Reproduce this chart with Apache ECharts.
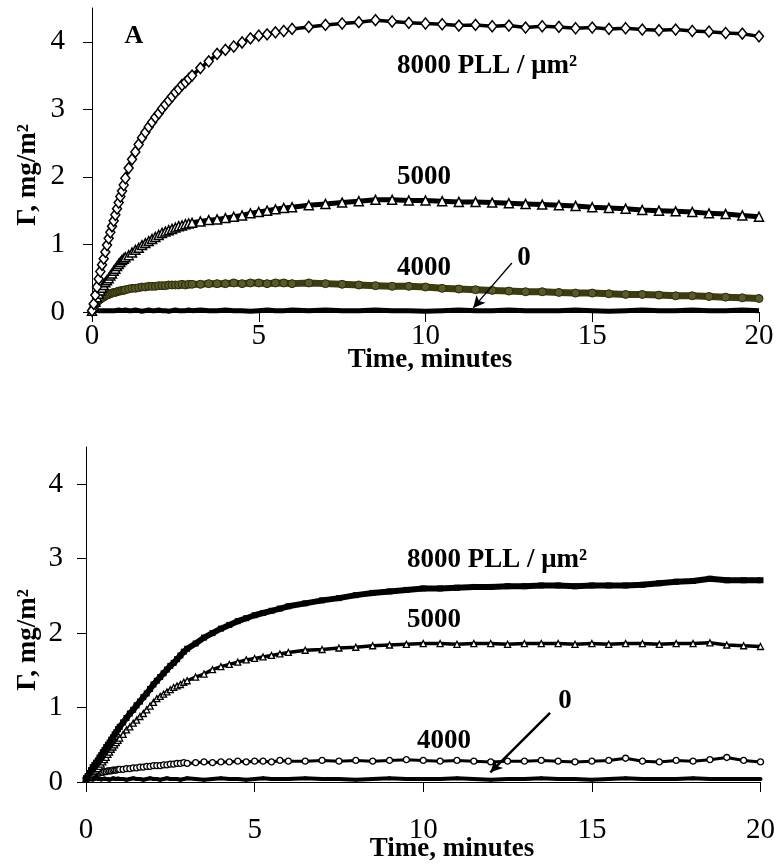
<!DOCTYPE html>
<html>
<head>
<meta charset="utf-8">
<script src="https://cdn.jsdelivr.net/npm/echarts@6/dist/echarts.min.js"></script>
<style>html,body{margin:0;padding:0;background:#fff;}#c{width:778px;height:867px;}</style>
</head>
<body>
<div id="c"></div>
<script>
// Time, minutes (shared by both panels)
const time = [0,0.05,0.1,0.15,0.2,0.25,0.3,0.35,0.4,0.45,0.5,0.55,0.6,0.65,0.7,0.75,0.8,0.85,0.9,0.95,1.0,
  1.1,1.2,1.3,1.4,1.5,1.6,1.7,1.8,1.9,2.0,2.1,2.2,2.3,2.4,2.5,2.6,2.7,2.8,2.9,3.0,
  3.25,3.5,3.75,4.0,4.25,4.5,4.75,5.0,5.25,5.5,5.75,6.0,
  6.5,7,7.5,8,8.5,9,9.5,10,10.5,11,11.5,12,12.5,13,13.5,14,14.5,15,15.5,16,16.5,17,17.5,18,18.5,19,19.5,20];

// Panel A (top), Γ in mg/m²
const topPLL8000 = [0.02,0.12,0.25,0.37,0.49,0.60,0.70,0.79,0.89,0.99,1.09,1.18,1.27,1.35,1.44,1.53,1.62,1.71,1.79,1.88,1.98,
  2.13,2.26,2.37,2.48,2.58,2.66,2.74,2.81,2.88,2.94,3.01,3.07,3.13,3.19,3.25,3.30,3.36,3.40,3.45,3.50,
  3.61,3.71,3.82,3.88,3.93,3.99,4.05,4.09,4.11,4.14,4.16,4.19,
  4.22,4.25,4.27,4.29,4.32,4.30,4.28,4.27,4.26,4.24,4.25,4.23,4.24,4.21,4.23,4.22,4.20,4.21,4.19,4.20,4.18,4.17,4.18,4.16,4.15,4.13,4.12,4.08];
const topPLL5000 = [0.02,0.08,0.15,0.22,0.27,0.32,0.36,0.40,0.44,0.47,0.50,0.54,0.57,0.61,0.64,0.68,0.71,0.74,0.77,0.79,0.81,
  0.84,0.88,0.92,0.95,0.99,1.02,1.05,1.08,1.11,1.14,1.17,1.19,1.21,1.23,1.25,1.27,1.28,1.30,1.31,1.32,
  1.34,1.36,1.37,1.39,1.41,1.43,1.46,1.48,1.50,1.52,1.54,1.55,
  1.58,1.60,1.62,1.64,1.66,1.66,1.65,1.65,1.64,1.63,1.63,1.62,1.61,1.60,1.59,1.58,1.57,1.55,1.54,1.53,1.51,1.50,1.49,1.48,1.46,1.45,1.43,1.41];
const topPLL4000 = [0.02,0.07,0.11,0.14,0.17,0.19,0.21,0.22,0.24,0.25,0.26,0.27,0.28,0.29,0.29,0.30,0.31,0.31,0.32,0.32,0.33,
  0.34,0.35,0.35,0.36,0.37,0.37,0.38,0.38,0.38,0.39,0.39,0.39,0.40,0.40,0.40,0.40,0.41,0.40,0.41,0.41,
  0.41,0.42,0.42,0.42,0.43,0.42,0.43,0.43,0.42,0.43,0.43,0.42,
  0.43,0.42,0.41,0.40,0.39,0.38,0.38,0.37,0.35,0.34,0.33,0.32,0.31,0.30,0.30,0.29,0.28,0.28,0.27,0.26,0.26,0.25,0.24,0.24,0.23,0.22,0.21,0.20];
const topPLL0 = [0.02,0.02,0.03,0.02,0.02,0.01,0.02,0.03,0.02,0.02,0.02,0.03,0.02,0.01,0.02,0.02,0.03,0.02,0.02,0.02,0.03,
  0.02,0.02,0.03,0.02,0.01,0.02,0.03,0.02,0.02,0.03,0.02,0.02,0.01,0.02,0.03,0.02,0.02,0.02,0.03,0.02,
  0.03,0.02,0.02,0.03,0.02,0.02,0.01,0.02,0.03,0.02,0.02,0.03,
  0.02,0.03,0.02,0.02,0.03,0.02,0.02,0.01,0.02,0.03,0.02,0.02,0.03,0.02,0.02,0.02,0.03,0.02,0.01,0.02,0.03,0.02,0.02,0.03,0.02,0.02,0.03,0.02];

// Panel B (bottom)
const botPLL8000 = [0.05,0.08,0.12,0.16,0.20,0.23,0.26,0.29,0.33,0.36,0.40,0.43,0.47,0.50,0.53,0.57,0.60,0.64,0.67,0.71,0.74,
  0.80,0.86,0.92,0.97,1.03,1.08,1.14,1.19,1.25,1.31,1.36,1.41,1.46,1.51,1.56,1.60,1.65,1.70,1.75,1.79,
  1.86,1.94,2.00,2.06,2.11,2.16,2.20,2.24,2.27,2.30,2.33,2.36,
  2.40,2.44,2.47,2.51,2.54,2.56,2.58,2.60,2.60,2.61,2.62,2.62,2.63,2.63,2.64,2.64,2.63,2.64,2.64,2.64,2.65,2.67,2.69,2.70,2.73,2.71,2.71,2.71];
const botPLL5000 = [0.05,0.06,0.08,0.10,0.12,0.14,0.16,0.18,0.21,0.24,0.27,0.30,0.33,0.37,0.40,0.44,0.47,0.50,0.53,0.56,0.59,
  0.64,0.70,0.74,0.79,0.83,0.88,0.92,0.97,1.02,1.07,1.12,1.15,1.18,1.21,1.24,1.27,1.29,1.31,1.34,1.36,
  1.41,1.45,1.51,1.55,1.58,1.61,1.64,1.66,1.68,1.70,1.72,1.74,
  1.77,1.78,1.80,1.81,1.83,1.84,1.85,1.86,1.86,1.85,1.86,1.86,1.85,1.86,1.86,1.86,1.85,1.86,1.85,1.86,1.86,1.85,1.86,1.86,1.87,1.84,1.83,1.82];
const botPLL4000 = [0.05,0.07,0.08,0.09,0.10,0.11,0.11,0.12,0.12,0.13,0.13,0.14,0.14,0.15,0.15,0.15,0.16,0.16,0.16,0.17,0.17,
  0.17,0.18,0.18,0.19,0.19,0.20,0.20,0.21,0.21,0.22,0.22,0.22,0.23,0.23,0.24,0.24,0.25,0.25,0.26,0.25,
  0.26,0.27,0.26,0.27,0.27,0.28,0.27,0.28,0.28,0.27,0.29,0.28,
  0.28,0.29,0.28,0.29,0.28,0.29,0.30,0.29,0.28,0.29,0.28,0.27,0.28,0.28,0.29,0.28,0.27,0.28,0.29,0.32,0.28,0.27,0.29,0.28,0.30,0.33,0.29,0.27];
const botPLL0 = [0.05,0.04,0.05,0.04,0.03,0.04,0.05,0.04,0.04,0.03,0.04,0.05,0.04,0.04,0.03,0.04,0.05,0.04,0.04,0.05,0.04,
  0.04,0.03,0.04,0.05,0.04,0.04,0.03,0.04,0.05,0.04,0.04,0.03,0.04,0.05,0.04,0.04,0.04,0.03,0.04,0.05,
  0.04,0.03,0.04,0.05,0.04,0.04,0.03,0.04,0.05,0.04,0.04,0.04,
  0.05,0.04,0.04,0.03,0.04,0.05,0.04,0.04,0.04,0.05,0.04,0.03,0.04,0.04,0.05,0.04,0.04,0.03,0.04,0.05,0.04,0.04,0.04,0.05,0.04,0.04,0.04,0.04];

const xTicks = [0, 5, 10, 15, 20];
const yTicks = [0, 1, 2, 3, 4];

const pair = (ys) => time.map((t, i) => [t, ys[i]]);
const FONT = 'Liberation Serif, Times New Roman, serif';
const OLIVE = '#3c3c12';

function xAxisFor(gi, margin) {
  return {
    gridIndex: gi, type: 'value', min: 0, max: 20, interval: 5,
    axisLine: { show: true, onZero: false, lineStyle: { color: '#000', width: 1 } },
    axisTick: { show: true, inside: false, length: 10, lineStyle: { color: '#000', width: 1 } },
    axisLabel: { color: '#000', fontFamily: FONT, fontSize: 29, margin: margin,
      formatter: v => xTicks.includes(v) ? String(v) : '' },
    splitLine: { show: false }
  };
}
function yAxisFor(gi, margin) {
  return {
    gridIndex: gi, type: 'value', min: 0, max: 4.5, interval: 1,
    axisLine: { show: true, onZero: false, lineStyle: { color: '#000', width: 1 } },
    axisTick: { show: true, inside: false, length: 9, lineStyle: { color: '#000', width: 1 } },
    axisLabel: { color: '#000', fontFamily: FONT, fontSize: 29, margin: margin, showMaxLabel: false,
      formatter: v => yTicks.includes(v) ? String(v) : '' },
    splitLine: { show: false }
  };
}

const arrowLine = (from, to, w) => ({
  silent: true, animation: false,
  symbol: ['none', 'arrow'], symbolSize: [9, 12],
  lineStyle: { color: '#000', width: w, type: 'solid' },
  label: { show: false },
  emphasis: { disabled: true },
  data: [[{ coord: from }, { coord: to }]]
});

const boldText = (txt, x, y, size) => ({
  type: 'text', x: x, y: y, z: 100,
  style: { text: txt, fill: '#000', font: 'bold ' + size + 'px ' + FONT, align: 'center', verticalAlign: 'middle' }
});
const boldTextLeft = (txt, x, y, size) => ({
  type: 'text', x: x, y: y, z: 100,
  style: { text: txt, fill: '#000', font: 'bold ' + size + 'px ' + FONT, align: 'left', verticalAlign: 'middle' }
});

const option = {
  animation: false,
  backgroundColor: '#fff',
  grid: [
    { left: 92, top: 8, width: 667, height: 304 },
    { left: 86, top: 447, width: 679, height: 335 }
  ],
  xAxis: [xAxisFor(0, 10), xAxisFor(1, 34)],
  yAxis: [yAxisFor(0, 27), yAxisFor(1, 23)],
  series: [
    // top panel
    { type: 'line', xAxisIndex: 0, yAxisIndex: 0, data: pair(topPLL0), symbol: 'none',
      lineStyle: { color: '#000', width: 5 }, z: 2,
      markLine: arrowLine([12.59, 0.726], [11.43, 0.06], 1.3) },
    { type: 'line', xAxisIndex: 0, yAxisIndex: 0, data: pair(topPLL4000), symbol: 'circle', symbolSize: 8,
      itemStyle: { color: '#5a5a28', borderColor: '#2a2a08', borderWidth: 1 },
      lineStyle: { color: OLIVE, width: 7 }, z: 3 },
    { type: 'line', xAxisIndex: 0, yAxisIndex: 0, data: pair(topPLL5000), symbol: 'triangle', symbolSize: 9,
      itemStyle: { color: '#fff', borderColor: '#000', borderWidth: 1.5 },
      lineStyle: { color: '#000', width: 5 }, z: 4 },
    { type: 'line', xAxisIndex: 0, yAxisIndex: 0, data: pair(topPLL8000), symbol: 'diamond', symbolSize: [9, 11],
      itemStyle: { color: '#fff', borderColor: '#000', borderWidth: 1.5 },
      lineStyle: { color: '#000', width: 3.5 }, z: 5 },
    // bottom panel
    { type: 'line', xAxisIndex: 1, yAxisIndex: 1, data: pair(botPLL0), symbol: 'circle', symbolSize: 4,
      itemStyle: { color: '#000' }, lineStyle: { color: '#000', width: 4 }, z: 2,
      markLine: arrowLine([13.76, 0.93], [11.99, 0.13], 2.5) },
    { type: 'line', xAxisIndex: 1, yAxisIndex: 1, data: pair(botPLL4000), symbol: 'circle', symbolSize: 6,
      itemStyle: { color: '#fff', borderColor: '#000', borderWidth: 1.4 },
      lineStyle: { color: '#000', width: 3 }, z: 3 },
    { type: 'line', xAxisIndex: 1, yAxisIndex: 1, data: pair(botPLL5000), symbol: 'triangle', symbolSize: 6,
      itemStyle: { color: '#fff', borderColor: '#000', borderWidth: 1.3 },
      lineStyle: { color: '#000', width: 3.5 }, z: 4 },
    { type: 'line', xAxisIndex: 1, yAxisIndex: 1, data: pair(botPLL8000), symbol: 'rect', symbolSize: 6,
      itemStyle: { color: '#000' }, lineStyle: { color: '#000', width: 6 }, z: 5 }
  ],
  graphic: [
    boldText('A', 134, 36, 26),
    boldTextLeft('8000 PLL / μm²', 397, 66, 27),
    boldTextLeft('5000', 397, 177, 27),
    boldTextLeft('4000', 397, 268, 27),
    boldText('0', 524, 258, 27),
    boldText('Time, minutes', 430, 360, 27),
    { type: 'text', x: 28, y: 175, rotation: Math.PI / 2, z: 100,
      style: { text: 'Γ, mg/m²', fill: '#000', font: 'bold 27px ' + FONT, align: 'center', verticalAlign: 'middle' } },

    boldTextLeft('8000 PLL / μm²', 407, 560, 27),
    boldTextLeft('5000', 407, 620, 27),
    boldTextLeft('4000', 417, 741, 27),
    boldText('0', 565, 701, 27),
    boldText('Time, minutes', 452, 849, 27),
    { type: 'text', x: 28, y: 640, rotation: Math.PI / 2, z: 100,
      style: { text: 'Γ, mg/m²', fill: '#000', font: 'bold 27px ' + FONT, align: 'center', verticalAlign: 'middle' } }
  ]
};

const chart = echarts.init(document.getElementById('c'), null, { renderer: 'canvas' });
chart.setOption(option);
</script>
</body>
</html>
